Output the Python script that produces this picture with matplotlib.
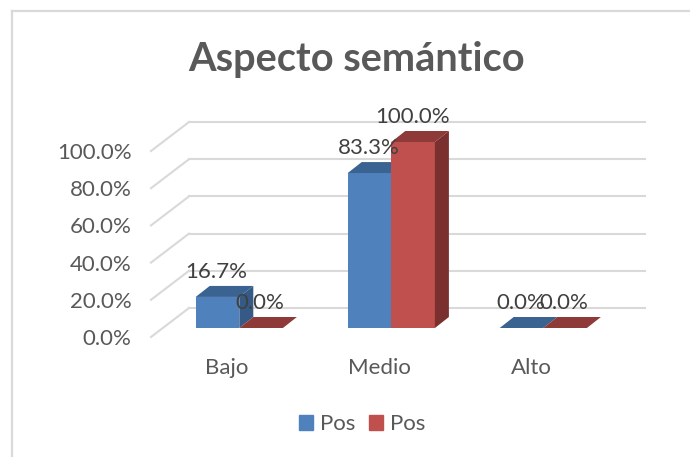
import matplotlib
matplotlib.use("Agg")
import matplotlib.pyplot as plt
from matplotlib.patches import Polygon, Patch

plt.rcParams['font.family'] = ['Lato', 'DejaVu Sans']

categories = ["Bajo", "Medio", "Alto"]
serie_a = [16.7, 83.3, 0.0]
serie_b = [0.0, 100.0, 0.0]
series_names = ["Pos", "Pos"]
ticks = [0, 20, 40, 60, 80, 100]
tick_labels = ["0.0%", "20.0%", "40.0%", "60.0%", "80.0%", "100.0%"]

W, H = 690, 457
PX_X = 152.0   # pixels per category
PX_Y = 1.86    # pixels per percent

# depth offsets, in data units
wall_dx, wall_dy = 38 / PX_X, 29 / PX_Y
bar_x0, bar_y0 = 12.3 / PX_X, 9 / PX_Y
bar_dx, bar_dy = 14 / PX_X, 11 / PX_Y
bar_w = 43.6 / PX_X

text_col = "#595959"
grid_col = "#d9d9d9"
blue = ("#4f81bd", "#3a6391", "#355a85")
red = ("#c0504d", "#8e3a38", "#7a302e")
fs = 16

fig = plt.figure(figsize=(W / 100, H / 100), dpi=100, facecolor="white")

# outer frame of the chart, only top and left show in the crop
frame = fig.add_axes([0, 0, 1, 1], zorder=-1)
frame.set_xlim(0, W)
frame.set_ylim(H, 0)
frame.axis("off")
frame.plot([12, 12], [H, 11], color=grid_col, lw=1.6)
frame.plot([12, W], [11, 11], color=grid_col, lw=1.6)

ax = fig.add_axes([151 / W, (H - 337) / H, 456 / W, 186 / H])
ax.set_xlim(-0.5, 2.5)
ax.set_ylim(0, 100)
ax.patch.set_visible(False)
for s in ax.spines.values():
    s.set_visible(False)

for t in ticks:
    ax.plot([-0.5, -0.5 + wall_dx], [t, t + wall_dy], color=grid_col, lw=1.5,
            clip_on=False, zorder=1)
    ax.plot([-0.5 + wall_dx, 2.5 + wall_dx], [t + wall_dy, t + wall_dy],
            color=grid_col, lw=1.5, clip_on=False, zorder=1)

ax.set_xticks(range(len(categories)))
ax.set_xticklabels(categories, fontsize=fs, color=text_col)
ax.set_yticks(ticks)
ax.set_yticklabels(tick_labels, fontsize=fs, color=text_col)
ax.tick_params(axis="x", length=0, pad=15)
ax.tick_params(axis="y", length=0, pad=14)
for lab in ax.get_yticklabels():
    lab.set_y(lab.get_position()[1])


def bar3d(left, val, cols, z):
    base = bar_y0
    right = left + bar_w
    top = base + val
    ax.bar(left, val, bar_w, bottom=base, align="edge", color=cols[0],
           clip_on=False, zorder=z)
    ax.add_patch(Polygon([(left, top), (right, top), (right + bar_dx, top + bar_dy),
                          (left + bar_dx, top + bar_dy)], color=cols[1], lw=0,
                         clip_on=False, zorder=z))
    ax.add_patch(Polygon([(right, base), (right + bar_dx, base + bar_dy),
                          (right + bar_dx, top + bar_dy), (right, top)],
                         color=cols[2], lw=0, clip_on=False, zorder=z))
    ax.text(left + bar_w / 2 - 1 / PX_X, top + bar_dy + 14 / PX_Y, "%.1f%%" % val, ha="center",
            va="center", fontsize=fs, color="#404040", clip_on=False, zorder=10)


for i in range(len(categories)):
    center = i + bar_x0
    bar3d(center - bar_w, serie_a[i], blue, 3 + i)
    bar3d(center, serie_b[i], red, 3.5 + i)

handles = [Patch(color=blue[0]), Patch(color=red[0])]
fig.legend(handles, series_names, ncol=2, loc="center", bbox_to_anchor=(362 / W, 1 - 424 / H),
           frameon=False, fontsize=fs, labelcolor=text_col, handlelength=0.65, handleheight=0.65,
           handletextpad=0.3, columnspacing=0.6)

fig.text(357 / W, 1 - 60 / H, "Aspecto semántico", ha="center", va="center",
         fontsize=28.6, fontweight="bold", color=text_col)

fig.savefig("out.png", dpi=100)
